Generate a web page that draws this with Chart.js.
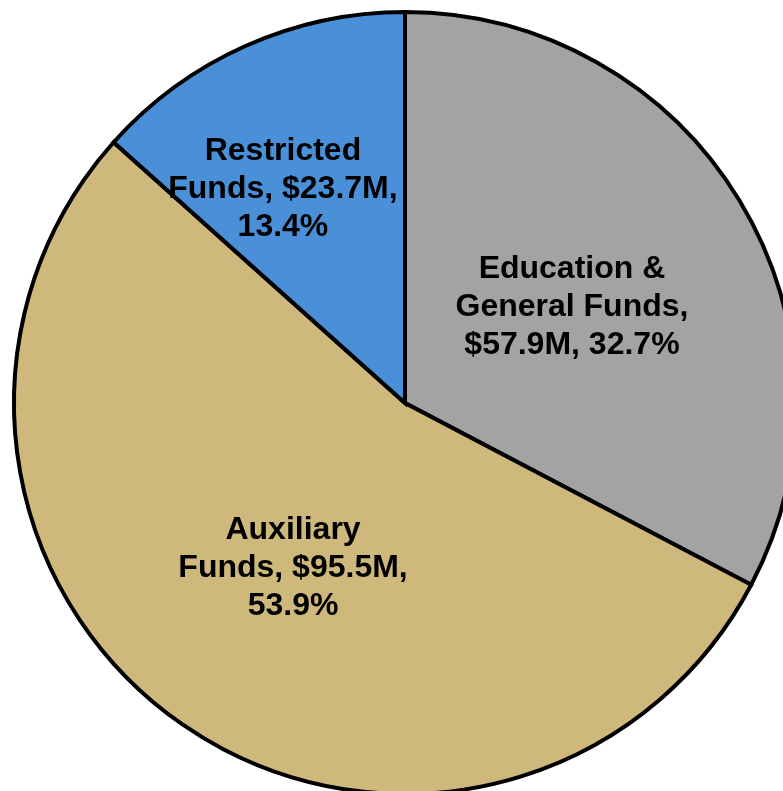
<!DOCTYPE html>
<html>
<head>
<meta charset="utf-8">
<script src="https://cdn.jsdelivr.net/npm/chart.js@4/dist/chart.umd.min.js"></script>
<style>
html,body{margin:0;padding:0;background:#fff;overflow:hidden;width:783px;height:791px;}
#wrap{position:absolute;left:0;top:0;width:810px;height:806px;}
</style>
</head>
<body>
<div id="wrap"><canvas id="c"></canvas></div>
<script>
const categories = ["Education & General Funds", "Auxiliary Funds", "Restricted Funds"];
const amounts = [57.9, 95.5, 23.7];
const amountLabels = ["$57.9M", "$95.5M", "$23.7M"];
const percentLabels = ["32.7%", "53.9%", "13.4%"];
const colors = ["#A2A3A2", "#CFB87B", "#4A90D9"];

const labelLines = [
  ["Education &", "General Funds,", amountLabels[0] + ", " + percentLabels[0]],
  ["Auxiliary", "Funds, " + amountLabels[1] + ",", percentLabels[1]],
  ["Restricted", "Funds, " + amountLabels[2] + ",", percentLabels[2]]
];
const labelRadiusFrac = [0.490, 0.514, 0.626];
const labelAngleShiftDeg = [1.78, -0.91, -5.82];

const labelPlugin = {
  id: 'sliceLabels',
  afterDatasetsDraw(chart) {
    const ctx = chart.ctx;
    const meta = chart.getDatasetMeta(0);
    ctx.save();
    ctx.font = 'bold 32px "Liberation Sans", Arial, sans-serif';
    ctx.fillStyle = '#000';
    ctx.textAlign = 'center';
    ctx.textBaseline = 'middle';
    const lh = 38;
    meta.data.forEach((arc, i) => {
      const p = arc.getProps(['x','y','startAngle','endAngle','outerRadius'], true);
      const mid = (p.startAngle + p.endAngle) / 2 + labelAngleShiftDeg[i] * Math.PI / 180;
      const r = p.outerRadius * labelRadiusFrac[i];
      const cx = p.x + Math.cos(mid) * r;
      const cy = p.y + Math.sin(mid) * r - 2;
      const lines = labelLines[i];
      lines.forEach((t, j) => {
        ctx.fillText(t, cx, cy + (j - (lines.length - 1) / 2) * lh);
      });
    });
    ctx.restore();
  }
};

new Chart(document.getElementById('c'), {
  type: 'pie',
  data: {
    labels: categories,
    datasets: [{
      data: amounts,
      backgroundColor: colors,
      borderColor: '#000',
      borderWidth: 4,
      borderJoinStyle: 'miter'
    }]
  },
  options: {
    responsive: true,
    maintainAspectRatio: false,
    animation: false,
    radius: 391,
    layout: { padding: 0 },
    plugins: { legend: { display: false }, tooltip: { enabled: false } }
  },
  plugins: [labelPlugin]
});
</script>
</body>
</html>
